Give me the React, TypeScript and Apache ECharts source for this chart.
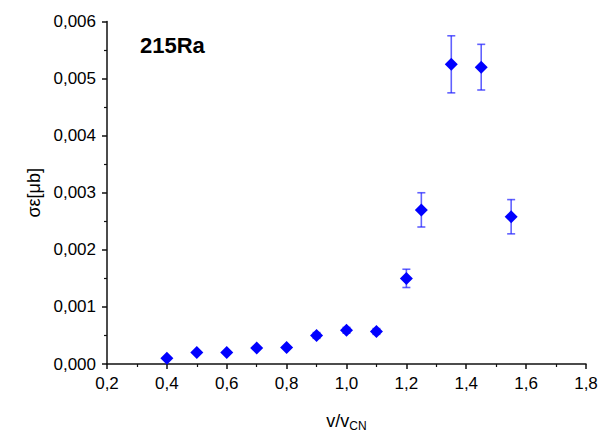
import React, { useEffect, useRef } from "react";
import * as echarts from "echarts";

const xValues = [0.4, 0.5, 0.6, 0.7, 0.8, 0.9, 1.0, 1.1, 1.2, 1.25, 1.35, 1.45, 1.55];
const yValues = [0.0001, 0.0002, 0.0002, 0.00028, 0.00029, 0.0005, 0.00059, 0.00057, 0.0015, 0.0027, 0.00525, 0.0052, 0.00258];
const yErrors = [0, 0, 0, 0, 0, 0.00005, 0.00005, 0.00005, 0.00016, 0.0003, 0.0005, 0.0004, 0.0003];
const xTicks = [0.2, 0.4, 0.6, 0.8, 1.0, 1.2, 1.4, 1.6, 1.8];
const yTicks = [0, 0.001, 0.002, 0.003, 0.004, 0.005, 0.006];
const title = "215Ra";

const FONT = "Liberation Sans, Arial, sans-serif";

export default function App() {
  const ref = useRef<HTMLDivElement>(null);
  useEffect(() => {
    if (!ref.current) return;
    const chart = echarts.init(ref.current, null, { renderer: "svg" });
    const points = xValues.map((x, i) => [x, yValues[i]]);
    const errData = xValues.map((x, i) => [x, yValues[i] - yErrors[i], yValues[i] + yErrors[i]]);
    chart.setOption({
      animation: false,
      backgroundColor: "#fff",
      grid: { left: 107, right: 17, top: 21.5, bottom: 68 },
      graphic: [
        {
          type: "text",
          left: 140,
          top: 34,
          style: { text: title, font: `bold 22px ${FONT}`, fill: "#000" },
        },
      ],
      xAxis: {
        type: "value",
        min: xTicks[0],
        max: xTicks[xTicks.length - 1],
        interval: 0.2,
        splitLine: { show: false },
        axisLine: { onZero: false, lineStyle: { color: "#111", width: 1.5 } },
        axisTick: { inside: false, length: 5, lineStyle: { color: "#111", width: 1.5 } },
        minorTick: { show: true, splitNumber: 2, length: 3, lineStyle: { color: "#111", width: 1.2 } },
        axisLabel: {
          margin: 11,
          fontFamily: FONT,
          fontSize: 17,
          color: "#000",
          formatter: (v: number) => v.toFixed(1).replace(".", ","),
        },
        name: "v/v{sub|CN}",
        nameLocation: "middle",
        nameGap: 46,
        nameTextStyle: {
          fontFamily: FONT,
          fontSize: 18,
          color: "#000",
          rich: {
            sub: { fontFamily: FONT, fontSize: 12, color: "#000", verticalAlign: "bottom", padding: [10, 0, 0, 0] },
          },
        },
      },
      yAxis: {
        type: "value",
        min: yTicks[0],
        max: yTicks[yTicks.length - 1],
        interval: 0.001,
        splitLine: { show: false },
        axisLine: { show: true, onZero: false, lineStyle: { color: "#111", width: 1.5 } },
        axisTick: { show: true, inside: false, length: 5, lineStyle: { color: "#111", width: 1.5 } },
        minorTick: { show: true, splitNumber: 2, length: 3, lineStyle: { color: "#111", width: 1.2 } },
        axisLabel: {
          margin: 11,
          fontFamily: FONT,
          fontSize: 17,
          color: "#000",
          formatter: (v: number) => v.toFixed(3).replace(".", ","),
        },
        name: "σε[μb]",
        nameLocation: "middle",
        nameGap: 63,
        nameTextStyle: { fontFamily: FONT, fontSize: 18, color: "#000" },
      },
      series: [
        {
          type: "custom",
          data: errData,
          renderItem: (params: any, api: any) => {
            const x = api.value(0);
            const lo = api.value(1);
            const hi = api.value(2);
            if (hi - lo <= 0) return null;
            const pLo = api.coord([x, lo]);
            const pHi = api.coord([x, hi]);
            const w = 4;
            const style = { stroke: "rgba(30,30,255,0.7)", lineWidth: 1.6 };
            return {
              type: "group",
              children: [
                { type: "line", shape: { x1: pLo[0], y1: pLo[1], x2: pHi[0], y2: pHi[1] }, style },
                { type: "line", shape: { x1: pLo[0] - w, y1: pLo[1], x2: pLo[0] + w, y2: pLo[1] }, style },
                { type: "line", shape: { x1: pHi[0] - w, y1: pHi[1], x2: pHi[0] + w, y2: pHi[1] }, style },
              ],
            };
          },
          z: 1,
        },
        {
          type: "scatter",
          data: points,
          symbol: "diamond",
          symbolSize: 13,
          itemStyle: { color: "#0000ff", opacity: 1 },
          emphasis: { disabled: true },
          z: 2,
        },
      ],
    });
    return () => chart.dispose();
  }, []);
  return <div ref={ref} style={{ width: 603, height: 437, position: "absolute", left: 0, top: 0 }} />;
}
